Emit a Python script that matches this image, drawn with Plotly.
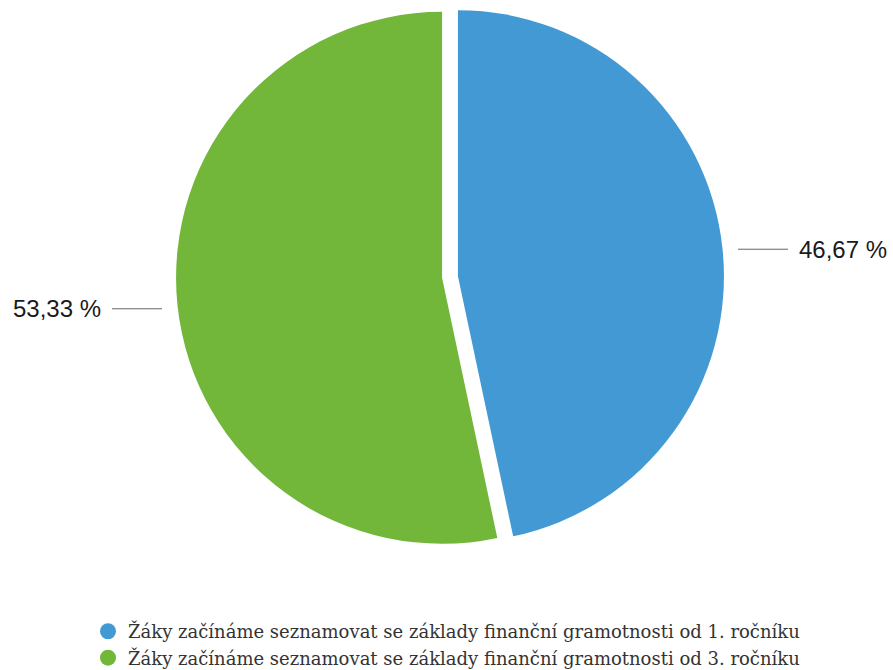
import math
import plotly.graph_objects as go

labels = ["Žáky začínáme seznamovat se základy finanční gramotnosti od 1. ročníku",
          "Žáky začínáme seznamovat se základy finanční gramotnosti od 3. ročníku"]
values = [46.67, 53.33]
value_text = ["46,67 %", "53,33 %"]
colors = ["#4399D4", "#72B63A"]

W, H = 893, 670
cx, cy = 450, 277          # pie centre in pixels
pull = 0.03
r = 266                    # radius of slices
half = r * (1 + pull)

fig = go.Figure()
fig.add_trace(go.Pie(
    labels=labels, values=values, sort=False, direction="clockwise", rotation=0,
    marker=dict(colors=colors, line=dict(width=0)), pull=[pull, pull],
    textinfo="none", hoverinfo="label+percent", showlegend=False,
    domain=dict(x=[(cx - half) / W, (cx + half) / W],
                y=[1 - (cy + half) / H, 1 - (cy - half) / H]),
))

for lab, col in zip(labels, colors):
    fig.add_trace(go.Scatter(x=[None], y=[None], mode="markers", name=lab,
                             marker=dict(color=col, size=19, symbol="circle")))

# outside labels with horizontal leader lines at the slice mid-angles
total = sum(values)
cum = 0
for v, t in zip(values, value_text):
    mid = (cum + v / 2) / total * 2 * math.pi
    cum += v
    sx, sy = math.sin(mid), -math.cos(mid)
    py = cy + r * sy + (4 if sx < 0 else 0)
    side = 1 if sx > 0 else -1
    x0 = cx + side * (r + 22)
    x1 = x0 + side * 50
    fig.add_shape(type="line", xref="paper", yref="paper",
                  x0=x0 / W, x1=x1 / W, y0=1 - py / H, y1=1 - py / H,
                  line=dict(color="#666666", width=1))
    fig.add_annotation(xref="paper", yref="paper", x=(x1 + side * 9) / W, y=1 - py / H,
                       text=t, showarrow=False, xanchor="left" if side > 0 else "right",
                       yanchor="middle", font=dict(family="Liberation Sans", size=24, color="#1a1a1a"))

fig.update_layout(
    width=W, height=H, margin=dict(l=0, r=0, t=0, b=0, autoexpand=False),
    paper_bgcolor="white", plot_bgcolor="white",
    xaxis=dict(visible=False), yaxis=dict(visible=False),
    legend=dict(orientation="v", x=0.5, xanchor="center", y=-0.009, yanchor="bottom",
                font=dict(family="DejaVu Serif", size=18, color="#333333"),
                itemwidth=30, tracegroupgap=0),
)
fig.write_html("out.html")
